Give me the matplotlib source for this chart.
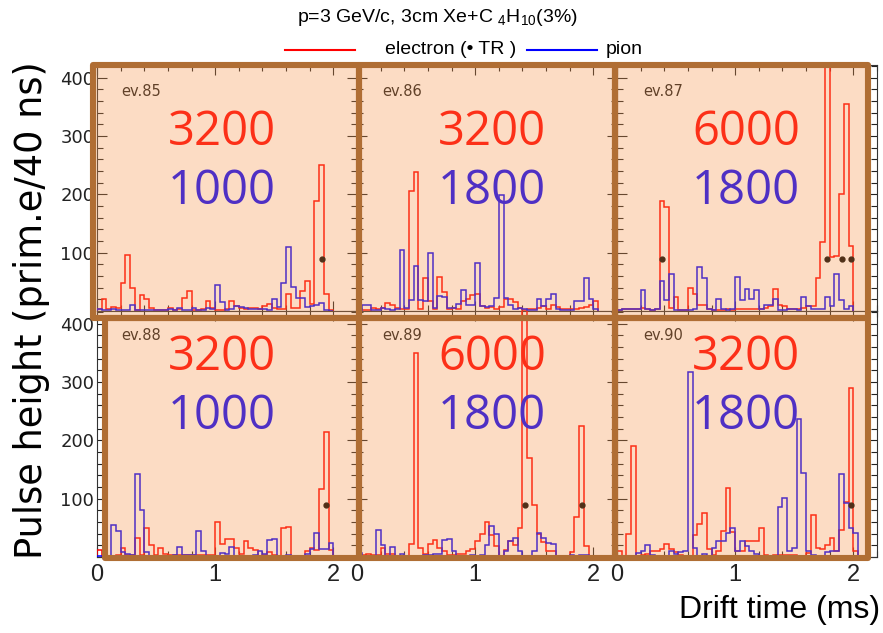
import numpy as np
import matplotlib
matplotlib.use("Agg")
import matplotlib.pyplot as plt
from matplotlib.patches import Rectangle
from matplotlib.lines import Line2D
from matplotlib.ticker import MultipleLocator

plt.rcParams["mathtext.fontset"] = "custom"
plt.rcParams["mathtext.rm"] = "Liberation Sans"
plt.rcParams["mathtext.it"] = "Liberation Sans:italic"
plt.rcParams["mathtext.bf"] = "Liberation Sans:bold"

# ---------------------------------------------------------------- data
BIN_WIDTH = 0.04          # 40 ns bins, drift time in microseconds
TR_LEVEL = 90             # height at which TR clusters are flagged

events = ["ev.85", "ev.86", "ev.87", "ev.88", "ev.89", "ev.90"]
electron_label = ["3200", "3200", "6000", "3200", "6000", "3200"]
pion_label = ["1000", "1800", "1800", "1000", "1800", "1800"]

e85 = [4, 20, 4, 7, 5, 48, 96, 39, 2, 27, 20, 6, 2, 2, 2, 5, 2, 3, 22, 35,
       2, 2, 4, 17, 5, 2, 2, 3, 17, 8, 5, 4, 6, 5, 4, 9, 12, 6, 3, 4,
       29, 6, 5, 35, 51, 12, 189, 251, 30, 2]
p85 = [3, 2, 2, 3, 2, 2, 2, 10, 2, 1, 1, 1, 1, 2, 2, 4, 2, 5, 2, 2,
       5, 2, 2, 6, 3, 44, 16, 2, 4, 9, 7, 5, 3, 3, 4, 3, 2, 21, 7, 48,
       110, 41, 23, 22, 7, 8, 10, 14, 2, 0]

e86 = [3, 2, 2, 5, 3, 5, 14, 10, 5, 3, 3, 205, 238, 3, 56, 18, 3, 58, 33, 3,
       5, 4, 18, 21, 27, 30, 8, 6, 7, 4, 7, 20, 20, 16, 5, 2, 3, 3, 6, 8,
       4, 10, 7, 4, 3, 4, 4, 5, 7, 10, 18]
p86 = [2, 10, 10, 2, 2, 6, 3, 2, 3, 105, 6, 19, 77, 19, 18, 99, 6, 26, 24, 5,
       6, 12, 36, 10, 10, 83, 8, 7, 8, 23, 199, 23, 10, 4, 6, 3, 2, 2, 20, 8,
       20, 30, 4, 2, 1, 2, 18, 18, 56, 20, 4]

e87 = [2, 4, 4, 3, 4, 6, 3, 2, 3, 188, 178, 5, 24, 2, 2, 40, 30, 10, 10, 3,
       2, 2, 2, 3, 2, 3, 4, 3, 4, 3, 4, 6, 8, 37, 10, 8, 4, 3, 3, 5,
       8, 8, 56, 118, 560, 93, 95, 201, 355, 112]
p87 = [2, 3, 3, 3, 4, 36, 3, 2, 3, 52, 19, 64, 2, 2, 2, 2, 4, 76, 56, 3,
       2, 21, 3, 2, 3, 59, 19, 37, 20, 36, 3, 10, 10, 20, 2, 2, 4, 3, 2, 24,
       8, 3, 3, 3, 24, 8, 64, 19, 4, 8]

e88 = [12, 2, 2, 2, 3, 16, 3, 4, 33, 3, 49, 21, 3, 15, 6, 4, 4, 4, 3, 3,
       3, 3, 3, 4, 3, 60, 22, 31, 31, 15, 6, 28, 15, 12, 2, 3, 8, 4, 2, 49,
       52, 2, 2, 2, 10, 15, 12, 116, 215, 12]
p88 = [2, 2, 2, 55, 45, 9, 6, 3, 142, 80, 9, 2, 2, 2, 2, 2, 3, 17, 4, 4,
       4, 44, 10, 2, 2, 2, 7, 6, 17, 2, 2, 2, 2, 3, 10, 6, 29, 31, 2, 2,
       3, 2, 2, 2, 6, 13, 42, 13, 13, 24]

e89 = [4, 4, 5, 4, 3, 15, 5, 5, 2, 2, 2, 22, 350, 15, 5, 22, 29, 15, 10, 4,
       4, 5, 5, 11, 13, 28, 39, 60, 38, 19, 2, 12, 28, 20, 50, 700, 170, 90, 40, 26,
       11, 10, 2, 2, 2, 9, 68, 225, 19, 2]
p89 = [7, 2, 2, 2, 47, 21, 2, 17, 2, 5, 2, 2, 2, 2, 3, 4, 5, 5, 30, 31,
       11, 2, 2, 2, 4, 2, 3, 21, 53, 40, 2, 11, 27, 33, 11, 2, 2, 11, 42, 33,
       24, 23, 2, 2, 2, 4, 2, 3, 4, 2]

e90 = [11, 2, 40, 190, 2, 4, 5, 11, 10, 14, 23, 14, 8, 4, 2, 2, 37, 56, 75, 13,
       3, 11, 45, 118, 43, 11, 10, 28, 28, 28, 50, 4, 2, 3, 4, 3, 4, 3, 2, 2,
       7, 72, 16, 14, 21, 32, 11, 46, 94, 290, 10]
p90 = [2, 2, 2, 2, 7, 11, 21, 4, 2, 2, 2, 10, 5, 9, 11, 317, 16, 2, 5, 2,
       15, 27, 27, 42, 50, 11, 27, 19, 10, 5, 2, 2, 2, 2, 85, 101, 11, 16, 237, 144,
       11, 4, 2, 2, 9, 11, 11, 143, 92, 50, 42]

# bins carrying a TR cluster (electron tracks)
tr85 = [47]
tr86 = []
tr87 = [9, 44, 47, 49]
tr88 = [48]
tr89 = [35, 47]
tr90 = [49]

electrons = [e85, e86, e87, e88, e89, e90]
pions = [p85, p86, p87, p88, p89, p90]
tr_bins = [tr85, tr86, tr87, tr88, tr89, tr90]

# ---------------------------------------------------------------- layout
W, H = 883, 633
fig = plt.figure(figsize=(W / 100, H / 100), dpi=100)


def fx(px):
    return px / W


def fy(py):
    return 1 - py / H


NARROW = ["Liberation Sans", "DejaVu Sans"]
BIGFONT = ["Open Sans", "DejaVu Sans"]

col_left = [97, 357, 617]
col_w = 260
row_bottom = [311, 557]
row_h = 246

axes = []
for k in range(6):
    r, c = divmod(k, 3)
    ax = fig.add_axes([fx(col_left[c]), fy(row_bottom[r]),
                       col_w / W, row_h / H])
    ax.set_xlim(0, 2.2)
    ax.set_ylim(0, 422)
    ax.set_facecolor("white")
    ax.xaxis.set_major_locator(MultipleLocator(1))
    ax.xaxis.set_minor_locator(MultipleLocator(0.2))
    ax.set_yticks([100, 200, 300, 400])
    ax.yaxis.set_minor_locator(MultipleLocator(20))
    ax.tick_params(which="both", direction="in", top=True, right=True,
                   colors="#222222", width=0.8)
    ax.tick_params(which="major", length=7)
    ax.tick_params(which="minor", length=4)
    for s in ax.spines.values():
        s.set_color("#333333")
        s.set_linewidth(0.8)
    if c == 0:
        ax.set_yticklabels(["100", "200", "300", "400"])
        for t in ax.get_yticklabels():
            t.set_fontsize(13)
            t.set_family("DejaVu Sans")
        ax.tick_params(axis="y", pad=2)
    else:
        ax.set_yticklabels([])
    if r == 1:
        ax.set_xticks([0, 1, 2])
        ax.set_xticklabels(["0", "1", "2"])
        for t in ax.get_xticklabels():
            t.set_fontsize(17)
            t.set_family(NARROW)
        ax.tick_params(axis="x", pad=5)
    else:
        ax.set_xticklabels([])

    e = np.asarray(electrons[k], dtype=float)
    p = np.asarray(pions[k], dtype=float)
    ax.stairs(e, np.arange(len(e) + 1) * BIN_WIDTH, baseline=0,
              color="red", lw=1.1, zorder=3)
    ax.stairs(p, np.arange(len(p) + 1) * BIN_WIDTH, baseline=0,
              color="blue", lw=1.1, zorder=4)
    if tr_bins[k]:
        xs = (np.asarray(tr_bins[k]) + 0.5) * BIN_WIDTH
        ax.plot(xs, np.full(len(xs), TR_LEVEL), "o", color="black",
                ms=3.5, zorder=5)
    axes.append(ax)

# event tags and threshold labels (sit under the tinted frames)
num_x = [222, 492, 746]
num_y = [(132, 191), (357, 416)]
tag_x = [121, 382, 643]
tag_y = [91, 336]
for k in range(6):
    r, c = divmod(k, 3)
    fig.text(fx(tag_x[c]), fy(tag_y[r]), events[k], fontsize=10.5,
             color="#1a1a1a", ha="left", va="center", zorder=2)
    fig.text(fx(num_x[c]), fy(num_y[r][0]), electron_label[k], fontsize=34,
             family=BIGFONT, color="red", ha="center", va="center", zorder=2)
    fig.text(fx(num_x[c]), fy(num_y[r][1]), pion_label[k], fontsize=34,
             family=BIGFONT, color="blue", ha="center", va="center", zorder=2)

# tinted frames around each event
TINT = "#F6944A"
FRAME = "#B06E34"
frames = [
    (93, 65, 358.5, 318), (358.5, 65, 615, 318), (615, 65, 868, 318),
    (104.5, 318, 358.5, 558), (358.5, 318, 615, 558), (615, 318, 868, 558),
]
for (x0, y0, x1, y1) in frames:
    fig.add_artist(Rectangle((fx(x0), fy(y1)), fx(x1) - fx(x0), fy(y0) - fy(y1),
                             transform=fig.transFigure, facecolor=TINT,
                             alpha=0.325, edgecolor="none", zorder=5))
for (x0, y0, x1, y1) in frames:
    fig.add_artist(Rectangle((fx(x0), fy(y1)), fx(x1) - fx(x0), fy(y0) - fy(y1),
                             transform=fig.transFigure, facecolor="none",
                             edgecolor=FRAME, lw=4.4, joinstyle="round",
                             zorder=6))

# title and legend
fig.text(fx(437), fy(18), "p=3 GeV/c, 3cm Xe+C $_4$H$_{10}$(3%)", fontsize=14,
         family=NARROW, ha="center", va="center")
fig.add_artist(Line2D([fx(285), fx(355)], [fy(50), fy(50)], color="red",
                      lw=1.5, transform=fig.transFigure))
fig.text(fx(385), fy(50), "electron (\u2022 TR )", fontsize=14, family=NARROW,
         ha="left", va="center")
fig.add_artist(Line2D([fx(527), fx(597)], [fy(50), fy(50)], color="blue",
                      lw=1.5, transform=fig.transFigure))
fig.text(fx(606), fy(50), "pion", fontsize=14, family=NARROW,
         ha="left", va="center")

# axis titles
fig.text(fx(32), fy(310), "Pulse height (prim.e/40 ns)", fontsize=26.5,
         rotation=90, ha="center", va="center")
fig.text(fx(880), fy(610), "Drift time (ms)", fontsize=23, family=NARROW,
         ha="right", va="center")

fig.savefig("out.png", dpi=100)
